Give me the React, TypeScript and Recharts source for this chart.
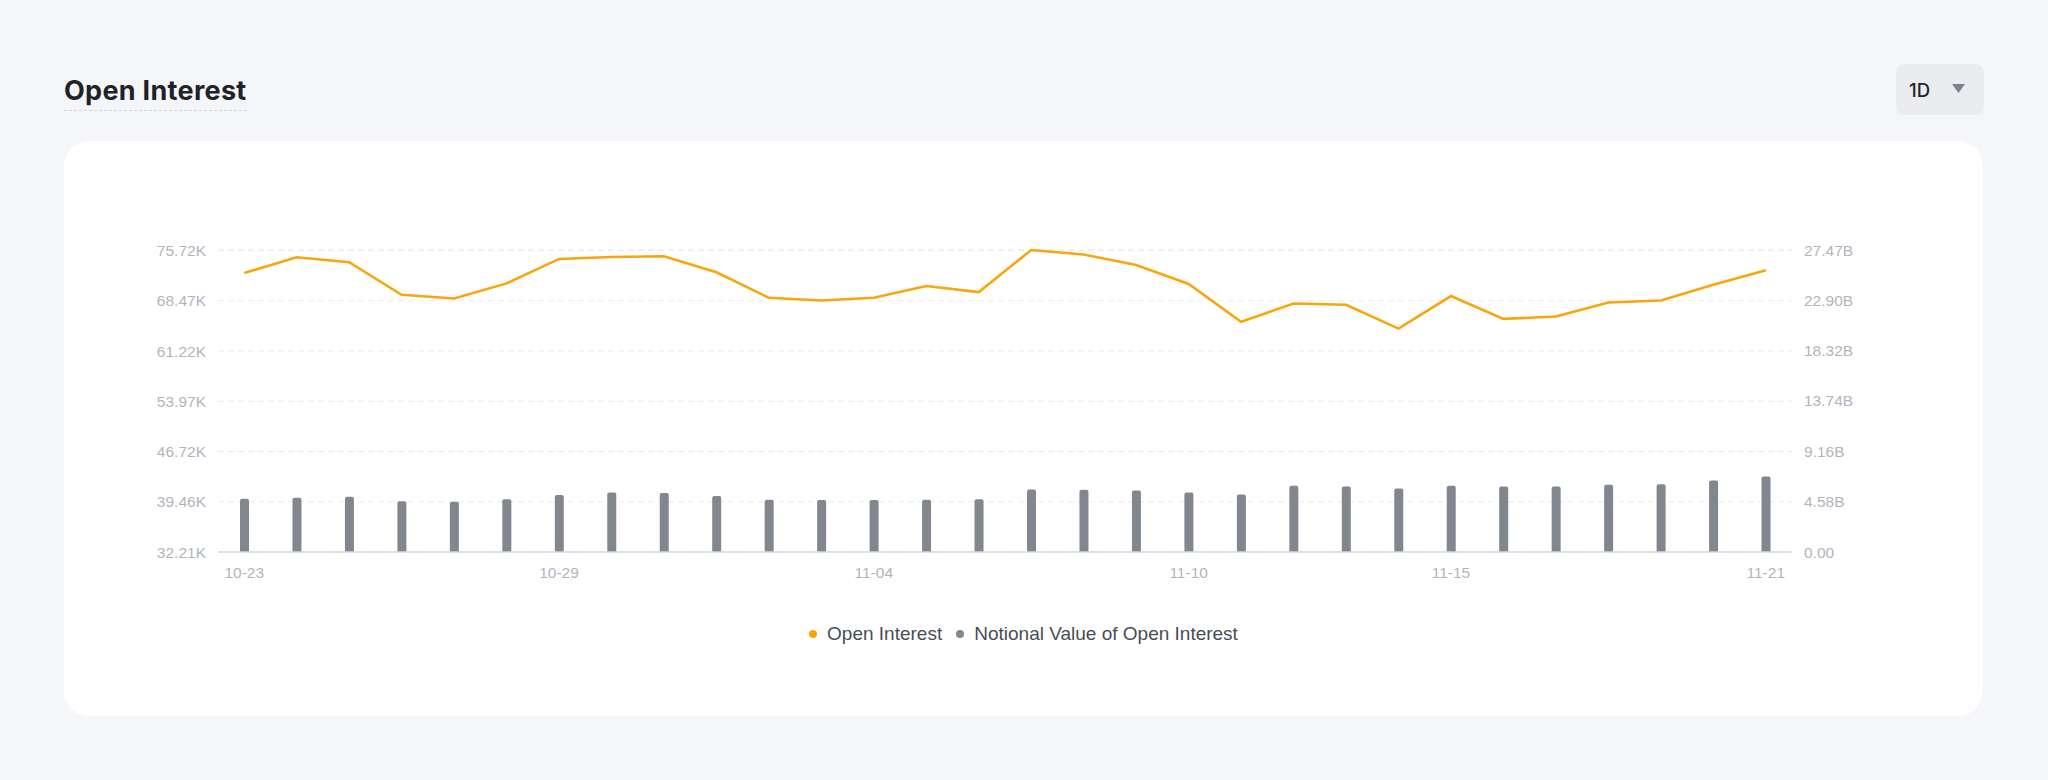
import React from "react";
import {
  ComposedChart,
  Bar,
  Line,
  XAxis,
  YAxis,
  CartesianGrid,
  Legend,
} from "recharts";

const dates = [
  "10-23", "10-24", "10-25", "10-26", "10-27", "10-28", "10-29", "10-30", "10-31", "11-01",
  "11-02", "11-03", "11-04", "11-05", "11-06", "11-07", "11-08", "11-09", "11-10", "11-11",
  "11-12", "11-13", "11-14", "11-15", "11-16", "11-17", "11-18", "11-19", "11-20", "11-21",
];

// open interest, contracts
const openInterest = [
  72480, 74750, 74030, 69340, 68810, 70980, 74510, 74800, 74900, 72580,
  68900, 68520, 68900, 70600, 69730, 75800, 75140, 73640, 70890, 65430,
  68080, 67890, 64460, 69150, 65860, 66200, 68230, 68520, 70790, 72870,
];

// notional value, billions
const notionalValue = [
  4.85, 4.94, 5.03, 4.61, 4.58, 4.79, 5.18, 5.42, 5.36, 5.09,
  4.76, 4.73, 4.73, 4.76, 4.79, 5.69, 5.66, 5.6, 5.42, 5.24,
  6.02, 5.96, 5.78, 6.02, 5.96, 5.96, 6.11, 6.17, 6.51, 6.87,
];

const xTicks = ["10-23", "10-29", "11-04", "11-10", "11-15", "11-21"];
const oiTicks = [32210, 39460, 46720, 53970, 61220, 68470, 75720];
const nvTicks = [0, 4.58, 9.16, 13.74, 18.32, 22.9, 27.47];

const data = dates.map((date, i) => ({
  date,
  oi: openInterest[i],
  nv: notionalValue[i],
}));

const ORANGE = "#F8A60B";
const GREY = "#82868E";
const tickStyle = { fill: "#B1B5BB", fontSize: 15.5, fontFamily: "'Liberation Sans', Arial, sans-serif" };

function LegendContent() {
  const items = [
    { label: "Open Interest", color: ORANGE },
    { label: "Notional Value of Open Interest", color: GREY },
  ];
  return (
    <div
      style={{
        height: 30,
        display: "flex",
        alignItems: "center",
        justifyContent: "center",
        fontFamily: "'Liberation Sans', Arial, sans-serif",
        fontSize: 19,
        color: "#474D57",
      }}
    >
      {items.map((it, i) => (
        <div key={it.label} style={{ display: "flex", alignItems: "center", marginLeft: i ? 14 : 0 }}>
          <span style={{ width: 8, height: 8, borderRadius: 4, background: it.color, marginRight: 10 }} />
          <span>{it.label}</span>
        </div>
      ))}
    </div>
  );
}

export default function App() {
  return (
    <div style={{ position: "relative", width: 2048, height: 780, background: "#F5F6FA", overflow: "hidden" }}>
      <style>{"body{margin:0}"}</style>

      <div
        style={{
          position: "absolute",
          left: 64,
          top: 77,
          fontFamily: "Inter, sans-serif",
          fontWeight: 700,
          fontSize: 27,
          lineHeight: "27px",
          color: "#1E2329",
          paddingBottom: 6,
          borderBottom: "1px dashed #D5D8DC",
          letterSpacing: 0.3,
        }}
      >
        Open Interest
      </div>

      <div
        style={{
          position: "absolute",
          left: 1896,
          top: 64,
          width: 88,
          height: 51,
          borderRadius: 8,
          background: "#EAECEF",
          display: "flex",
          alignItems: "center",
          boxSizing: "border-box",
          paddingLeft: 13,
          fontFamily: "Inter, sans-serif",
          fontWeight: 500,
          fontSize: 18.5,
          color: "#1E2329",
        }}
      >
        1D
        <svg width={13} height={9} style={{ position: "absolute", left: 56, top: 20 }}>
          <path d="M0 0 L13 0 L6.5 9 Z" fill="#7D838B" />
        </svg>
      </div>

      <div
        style={{
          position: "absolute",
          left: 64,
          top: 141,
          width: 1919,
          height: 575,
          background: "#FFFFFF",
          borderRadius: 25,
        }}
      >
        <ComposedChart
          width={1919}
          height={575}
          data={data}
          margin={{ top: 109, right: 111, left: 74, bottom: 104 }}
        >
          <CartesianGrid yAxisId="oi" vertical={false} stroke="#E9EBEE" strokeDasharray="6 4" />
          <XAxis
            dataKey="date"
            ticks={xTicks}
            interval={0}
            tickLine={false}
            axisLine={{ stroke: "#D3D7DC", strokeWidth: 1.5 }}
            tick={tickStyle}
            tickMargin={9}
            height={30}
          />
          <YAxis
            yAxisId="oi"
            orientation="left"
            width={80}
            domain={[32210, 75720]}
            ticks={oiTicks}
            tickFormatter={(v) => (v / 1000).toFixed(2) + "K"}
            axisLine={false}
            tickLine={false}
            tickMargin={6}
            tick={tickStyle}
          />
          <YAxis
            yAxisId="nv"
            orientation="right"
            width={80}
            domain={[0, 27.47]}
            ticks={nvTicks}
            tickFormatter={(v) => (v === 0 ? "0.00" : v.toFixed(2) + "B")}
            axisLine={false}
            tickLine={false}
            tickMargin={6}
            tick={{ ...tickStyle, textAnchor: "start" }}
          />
          <Legend
            content={<LegendContent />}
            wrapperStyle={{ top: 478, left: 0, width: 1919 }}
          />
          <Bar
            yAxisId="nv"
            dataKey="nv"
            name="Notional Value of Open Interest"
            fill={GREY}
            barSize={9}
            radius={[2, 2, 0, 0]}
            isAnimationActive={false}
          />
          <Line
            yAxisId="oi"
            dataKey="oi"
            name="Open Interest"
            type="linear"
            stroke={ORANGE}
            strokeWidth={2.6}
            dot={false}
            activeDot={false}
            isAnimationActive={false}
          />
        </ComposedChart>
      </div>
    </div>
  );
}
